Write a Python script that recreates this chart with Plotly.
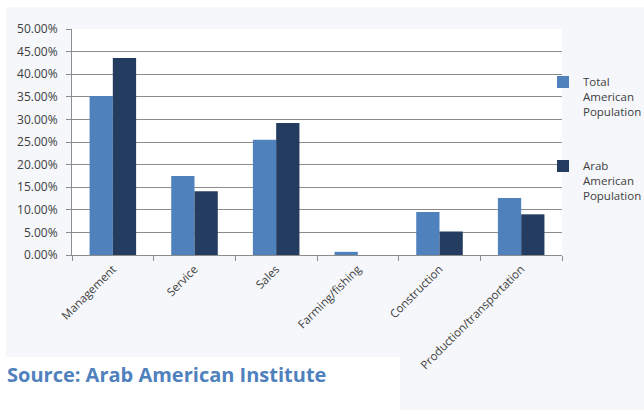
import plotly.graph_objects as go

categories = ["Management", "Service", "Sales", "Farming/fishing", "Construction", "Production/transportation"]
total_american = [0.352, 0.175, 0.255, 0.007, 0.095, 0.126]
arab_american = [0.436, 0.141, 0.292, 0.0, 0.052, 0.090]
series_names = ["Total<br>American<br>Population", "Arab<br>American<br>Population"]
y_ticks = [0, 0.05, 0.10, 0.15, 0.20, 0.25, 0.30, 0.35, 0.40, 0.45, 0.50]

W, H = 644, 410
L, R, T, B = 72, 82, 29, 155
pw = W - L - R
ph = H - T - B

def px_x(p):
    return (p - L) / pw

def px_y(p):
    return (H - B - p) / ph

fig = go.Figure()
fig.add_trace(go.Bar(x=categories, y=total_american, name=series_names[0],
                     marker=dict(color="#4f81bd", line=dict(width=0)), legend="legend"))
fig.add_trace(go.Bar(x=categories, y=arab_american, name=series_names[1],
                     marker=dict(color="#243c5f", line=dict(width=0)), legend="legend2"))

bg = "#f5f7fa"
shapes = [
    dict(type="rect", xref="paper", yref="paper", x0=px_x(6), x1=px_x(660), y0=px_y(357), y1=px_y(7),
         fillcolor=bg, line=dict(width=0), layer="below"),
    dict(type="rect", xref="paper", yref="paper", x0=px_x(400), x1=px_x(660), y0=px_y(430), y1=px_y(357),
         fillcolor=bg, line=dict(width=0), layer="below"),
    dict(type="rect", xref="paper", yref="paper", x0=0, x1=1, y0=0, y1=1,
         fillcolor="white", line=dict(width=0), layer="below"),
]

leg_common = dict(xref="container", xanchor="left", yref="container", yanchor="top",
                  bgcolor="rgba(0,0,0,0)", valign="top", font=dict(size=11.5, color="#404040"))

fig.update_layout(
    width=W, height=H,
    margin=dict(l=L, r=R, t=T, b=B, pad=0, autoexpand=False),
    paper_bgcolor="white", plot_bgcolor="white",
    font=dict(family="Open Sans", color="#404040"),
    barmode="group", bargap=0.43, bargroupgap=0,
    shapes=shapes,
    showlegend=True,
    legend=dict(x=543 / W, y=1 - 68 / H, **leg_common),
    legend2=dict(x=543 / W, y=1 - 152 / H, **leg_common),
    xaxis=dict(type="category", tickangle=-45, tickfont=dict(size=11.5, color="#404040"),
               ticks="outside", tickson="boundaries", ticklen=5, tickcolor="#8c8c8c",
               ticklabelstandoff=2,
               showline=True, linecolor="#8c8c8c", linewidth=1, showgrid=False),
    yaxis=dict(range=[0, 0.5], tickvals=y_ticks, tickformat=".2%", tickfont=dict(size=12, color="#404040"),
               ticks="outside", ticklen=5, tickcolor="#8c8c8c", ticklabelstandoff=6,
               showline=True, linecolor="#8c8c8c", linewidth=1,
               showgrid=True, gridcolor="#8c8c8c", gridwidth=1, zeroline=False),
    annotations=[dict(text="<b>Source: Arab American Institute</b>", xref="paper", yref="paper",
                      x=px_x(5), y=px_y(374), xanchor="left", yanchor="middle", showarrow=False,
                      font=dict(family="Open Sans", size=20, color="#4f81bd"))],
)

fig.write_html("out.html")
